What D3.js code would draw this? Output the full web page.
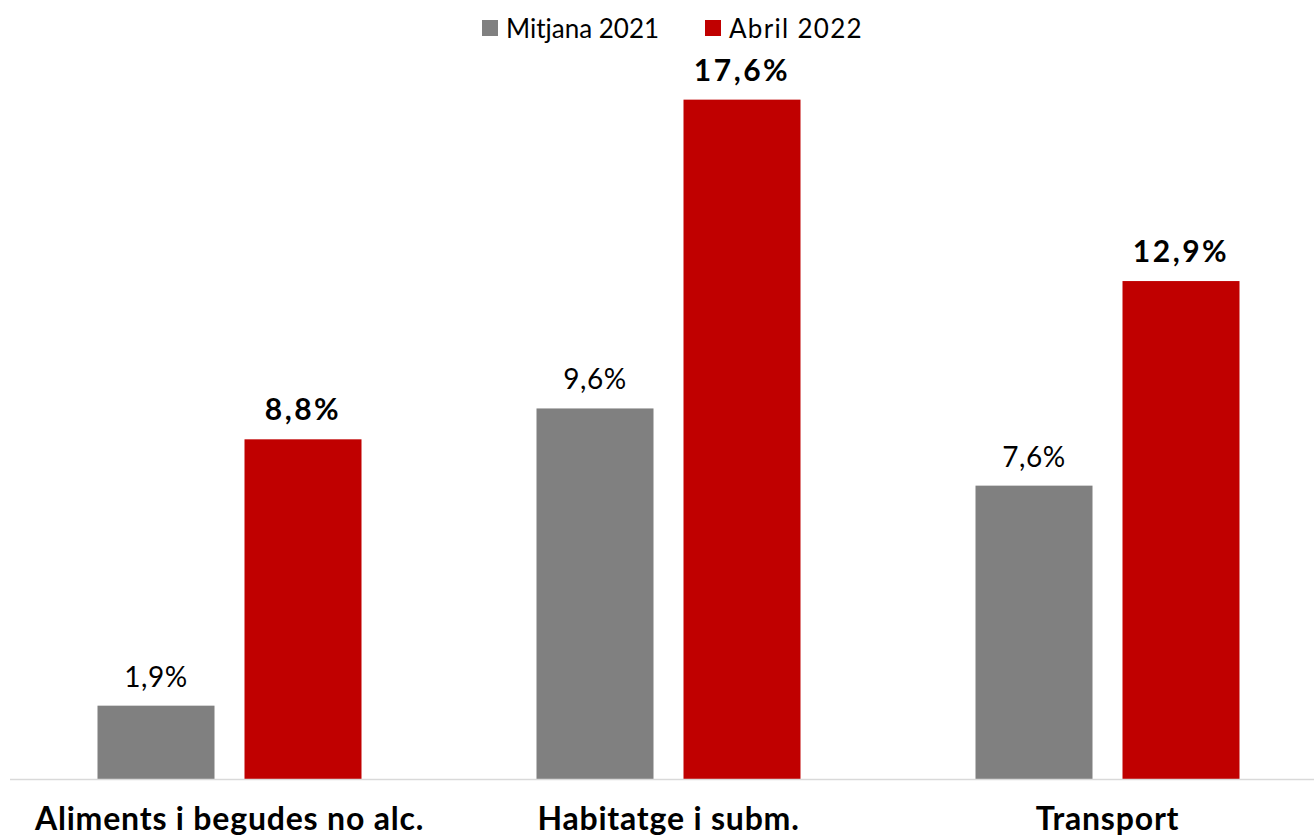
<!DOCTYPE html>
<html><head><meta charset="utf-8">
<script src="https://cdn.jsdelivr.net/npm/d3@7"></script>
<style>body{margin:0;background:#fff}svg{display:block}</style>
</head><body>
<svg id="c" width="1314" height="837"></svg>
<script>
const categories = ["Aliments i begudes no alc.", "Habitatge i subm.", "Transport"];
const seriesNames = ["Mitjana 2021", "Abril 2022"];
const mitjana2021 = [1.9, 9.6, 7.6];
const abril2022 = [8.8, 17.6, 12.9];
const colors = ["#808080", "#c00000"];
const font = "Lato, 'Open Sans', sans-serif";

const svg = d3.select("#c");
const x = d3.scaleBand().domain(categories).range([10, 1327]).paddingInner(0).paddingOuter(0);
const inner = d3.scaleBand().domain(seriesNames).range([x.bandwidth()/2 - 132, x.bandwidth()/2 + 132]).paddingInner(30/147).paddingOuter(0);
const y = d3.scaleLinear().domain([0, 20]).range([779, 7]);

const data = categories.map((c, i) => ({cat: c, vals: [
  {s: seriesNames[0], v: mitjana2021[i], bold: false, col: colors[0]},
  {s: seriesNames[1], v: abril2022[i], bold: true, col: colors[1]}]}));

const g = svg.selectAll("g.cat").data(data).join("g").attr("class", "cat")
  .attr("transform", d => `translate(${x(d.cat)},0)`);
g.selectAll("rect").data(d => d.vals).join("rect")
  .attr("x", d => inner(d.s)).attr("width", inner.bandwidth())
  .attr("y", d => y(d.v)).attr("height", d => y(0) - y(d.v))
  .attr("fill", d => d.col);
g.selectAll("text.val").data(d => d.vals).join("text").attr("class", "val")
  .attr("x", d => inner(d.s) + inner.bandwidth()/2).attr("y", d => y(d.v) - 19)
  .attr("text-anchor", "middle").attr("font-family", font)
  .attr("font-size", d => d.bold ? 30 : 28)
  .attr("letter-spacing", d => d.bold ? 2.5 : 0.5)
  .attr("font-weight", d => d.bold ? "bold" : "normal").attr("fill", "#000")
  .text(d => d.v.toFixed(1).replace(".", ",") + "%");

svg.append("line").attr("x1", 10).attr("x2", 1314).attr("y1", 779.5).attr("y2", 779.5)
  .attr("stroke", "#d9d9d9").attr("stroke-width", 1.5);

const xAxis = svg.append("g").attr("transform", "translate(0,779)")
  .call(d3.axisBottom(x).tickSize(0).tickPadding(0));
xAxis.select(".domain").remove();
xAxis.selectAll("text").attr("y", 51).attr("dy", 0).attr("font-family", font)
  .attr("font-size", 32).attr("letter-spacing", 0.8).attr("font-weight", "bold").attr("fill", "#000");

const legendX = [482, 705];
const lg = svg.selectAll("g.leg").data(seriesNames).join("g").attr("class", "leg")
  .attr("transform", (d, i) => `translate(${legendX[i]},0)`);
lg.append("rect").attr("x", 0).attr("y", 20).attr("width", 16).attr("height", 16)
  .attr("fill", (d, i) => colors[i]);
lg.append("text").attr("x", 24).attr("y", 38).attr("font-family", font).attr("font-size", 26)
  .attr("letter-spacing", (d, i) => i ? 1.3 : 0)
  .attr("fill", "#000").text(d => d);
</script>
</body></html>
